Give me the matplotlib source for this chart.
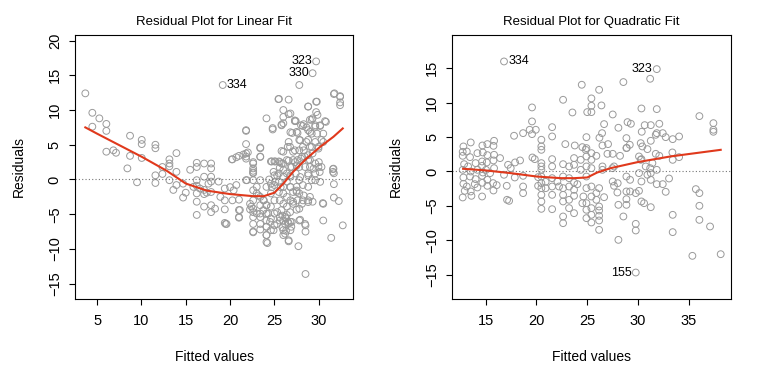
import numpy as np
import matplotlib.pyplot as plt

plt.rcParams['font.family'] = ['Liberation Sans', 'DejaVu Sans']

# residuals vs fitted, linear fit
lin_points = [
    (3.68, 12.4), (4.47, 9.6), (4.47, 7.6), (5.26, 8.8), (6.05, 8.0), (6.05, 7.0),
    (6.05, 4.0), (6.84, 4.2), (7.14, 3.85), (8.42, 1.6), (8.72, 6.3), (8.72, 3.4),
    (9.51, -0.4), (10.04, 5.7), (10.04, 5.1), (10.04, 3.1), (11.58, 5.0), (11.58, 4.5),
    (11.58, 0.6), (11.58, -0.5), (12.37, 1.8), (12.37, 0.8), (13.16, 2.9), (13.16, 2.3),
    (13.16, 1.9), (13.16, -0.1), (13.6, -1.5), (13.95, 3.8), (13.95, 1.1), (13.95, -0.8),
    (14.7, -2.6), (14.7, -0.6), (15.0, -1.9), (15.5, 1.4), (15.86, -1.06), (16.24, 2.4),
    (16.24, 1.8), (16.24, -0.1), (16.24, -0.9), (16.24, -2.0), (16.24, -3.2), (16.24, -5.1),
    (16.6, -1.3), (17.07, 2.3), (17.07, 0.4), (17.07, -1.5), (17.07, -2.1), (17.07, -3.9),
    (17.37, -1.9), (17.56, -0.6), (17.86, 2.3), (17.86, 1.6), (17.86, 0.4), (17.86, -0.3),
    (17.86, -1.8), (17.86, -3.7), (17.86, -4.7), (18.3, -4.2), (18.7, -0.3), (18.9, -2.5),
    (19.4, -1.3), (19.4, -4.3), (19.4, -6.25), (19.6, -6.4), (20.26, 2.9), (20.26, -3.0),
    (20.7, -0.8), (21.0, 3.4), (21.0, -2.9), (21.0, -4.4), (21.0, -5.5), (21.8, 7.1),
    (21.8, 5.1), (21.8, 3.75), (21.8, 3.3), (21.8, -0.1), (22.0, 3.9), (22.6, 2.3),
    (22.6, 1.25), (22.6, 0.9), (22.6, -0.1), (22.6, -3.0), (22.6, -4.2), (22.6, -5.4),
    (22.6, -6.4), (22.6, -7.5), (22.25, -3.5), (22.25, -4.3), (23.0, -1.06), (23.0, -2.0),
    (23.0, -4.9), (23.4, 4.6), (23.4, 3.3), (23.4, -0.1), (23.4, -2.5), (23.4, -3.7),
    (23.4, -5.4), (23.4, -7.2), (23.76, -3.0), (23.76, -4.4), (24.1, 8.8), (24.1, -1.06),
    (24.1, -3.7), (24.1, -4.9), (24.1, -5.9), (24.1, -6.8), (24.1, -8.0), (24.1, -9.0),
    (24.6, 2.6), (24.6, -0.6), (24.6, -2.0), (24.6, -3.9), (24.6, -5.6), (24.6, -7.3),
    (24.8, 7.4), (25.0, 2.6), (25.0, 0.6), (25.0, -0.8), (25.0, -3.0), (25.0, -4.9),
    (25.0, -6.6), (25.5, 11.6), (25.5, 2.6), (25.5, 0.87), (25.5, -0.34), (25.5, -1.8),
    (25.6, -3.0), (25.6, -5.4), (25.8, 7.8), (25.8, 2.3), (26.0, 10.0), (26.0, 9.0),
    (26.0, 8.1), (26.0, 4.0), (26.0, 1.35), (26.0, 0.4), (26.0, -1.06), (26.0, -3.5),
    (26.0, -5.9), (26.0, -7.3), (26.2, -7.8), (26.4, 2.8), (26.4, 0.87), (26.4, -0.3),
    (26.4, -2.5), (26.4, -3.9), (26.4, -5.1), (26.5, 4.7), (26.6, 11.5), (26.6, -6.3),
    (26.6, -8.75), (26.8, 9.5), (26.8, 1.8), (26.8, 0.4), (26.8, -1.06), (26.8, -3.0),
    (26.8, -7.3), (27.0, 6.7), (27.1, 4.0), (27.1, -1.8), (27.1, -3.5), (27.3, 8.5),
    (27.4, 0.87), (27.5, -1.06), (27.6, 6.7), (27.6, 2.8), (27.6, -3.0), (27.7, -9.6),
    (27.8, 13.6), (27.8, 5.7), (27.8, 4.2), (27.8, 1.8), (27.8, -0.1), (27.8, -2.0),
    (27.8, -4.2), (27.8, -5.9), (28.0, 7.8), (28.0, 3.0), (28.2, 7.7), (28.2, 4.7),
    (28.2, -0.8), (28.2, -3.0), (28.4, 3.3), (28.5, -6.6), (28.5, -7.5), (28.5, -13.6),
    (28.8, 10.5), (28.8, 7.1), (28.8, 5.7), (28.8, 2.8), (28.8, 0.87), (28.8, -1.06),
    (28.8, -3.0), (29.0, 8.6), (29.0, 4.7), (29.0, 1.8), (29.2, 6.6), (29.2, -0.1),
    (29.3, 15.3), (29.3, 8.8), (29.3, 3.75), (29.3, -3.2), (29.6, 7.6), (29.6, 2.3),
    (29.6, 0.87), (29.7, 11.2), (29.7, 17.0), (29.85, 9.3), (29.96, 4.7), (29.96, 1.8),
    (30.15, 7.8), (30.15, -0.34), (30.3, 5.7), (30.3, 1.8), (30.45, -3.4), (30.5, -5.9),
    (30.8, 8.3), (31.6, 1.5), (31.6, 1.1), (31.7, 12.3), (31.7, -0.67), (31.7, -2.6),
    (32.25, -3.1), (32.4, 11.9), (32.4, 11.1), (32.4, 10.7), (32.7, -6.6), (31.4, -8.4),
    (19.17, 13.6),
    # denser middle cluster
    (25.45, 11.57), (26.6, 9.4), (25.8, 7.9), (27.4, 8.4), (24.8, 7.2), (21.8, 7.0),
    (26.8, 6.8), (26.6, 5.4), (23.4, 4.5), (25.8, 4.1), (21.5, 3.6), (20.7, 3.2),
    (21.8, 3.0), (22.6, 2.5), (20.2, 2.9), (23.4, 3.25), (22.6, 1.6), (22.6, 1.0),
    (24.7, 2.6), (25.1, 2.6), (25.6, 2.5), (26.0, 2.3), (25.6, 1.7), (24.9, 1.1),
    (25.3, 0.6), (26.6, 2.7), (27.3, 2.5), (26.95, 1.8), (21.9, -0.1), (24.4, 0.0),
    (25.1, -0.35), (24.7, -1.1), (25.7, -1.1), (26.0, -2.0), (26.8, -1.1), (27.5, -1.8),
    (22.6, -1.55), (23.2, -2.3), (23.8, -3.0), (24.1, -3.7), (22.4, -3.9), (22.6, -4.7),
    (23.4, -4.9), (24.3, -4.9), (25.3, -4.7), (25.8, -4.4), (26.2, -5.4), (25.6, -5.9),
    (25.3, -6.4), (26.2, -6.4), (26.8, -6.1), (24.5, -6.1), (23.4, -6.4), (24.1, -6.8),
    (24.9, -7.3), (22.6, -7.6), (24.1, -8.0), (26.0, -8.0), (26.6, -8.9), (24.2, -9.15),
    (19.5, -6.4), (21.1, -4.4), (21.0, -5.4), (19.4, -3.0), (20.4, -1.55), (20.0, -1.1),
    (25.9, -5.2), (26.3, -5.6), (26.5, -6.1), (26.9, -6.8), (25.9, -6.9), (26.3, -7.4),
    (32.4, 12.0), (31.76, 12.4), (29.77, 11.2), (28.8, 10.5), (29.7, 9.7), (27.3, 8.4),
    (29.2, 8.6), (30.7, 8.4), (28.3, 7.96), (29.6, 7.8), (30.15, 7.7), (28.6, 7.5),
    (27.5, 6.85), (29.0, 6.85), (29.8, 6.6), (30.5, 6.6), (27.9, 5.65), (28.6, 5.4),
    (29.6, 5.4), (30.5, 5.4), (29.2, 4.7), (29.96, 4.45), (26.76, 4.7), (27.3, 4.2),
    (28.3, 4.2), (28.8, 3.5), (27.1, 2.8), (28.1, 3.25), (29.0, 2.8), (30.0, 2.5),
    (27.5, 2.0), (28.45, 1.8), (29.4, 1.56), (30.1, 1.08), (26.76, 0.6), (27.9, 0.36),
    (28.8, 0.6), (29.6, -0.12), (31.65, 1.56), (31.7, 0.9), (27.5, -1.6), (28.3, -2.3),
    (29.0, -2.5), (27.1, -3.2), (28.1, -3.5), (28.8, -3.25), (26.76, -4.7), (27.9, -5.8),
    (28.45, -6.4), (26.95, -6.1), (27.5, -4.35), (30.5, -3.5),
]

# residuals vs fitted, quadratic fit
quad_points = [
    (16.8, 15.96), (31.85, 14.85), (31.2, 13.45), (24.46, 12.58), (28.56, 12.97),
    (26.17, 11.85), (22.62, 10.4), (25.41, 10.6), (25.41, 9.53), (26.4, 9.58), (19.56, 9.29),
    (30.34, 9.14), (31.85, 9.05), (23.54, 8.56), (25.0, 8.61), (25.41, 8.61), (27.51, 8.27),
    (36.05, 8.03), (19.56, 7.26), (28.97, 7.16), (29.3, 6.92), (26.66, 6.87), (30.66, 6.72),
    (31.26, 6.72), (32.1, 6.92), (37.43, 7.01), (37.43, 6.05), (37.43, 5.76), (21.54, 6.43),
    (19.33, 6.05), (19.93, 6.05), (28.07, 6.34), (30.37, 5.76), (26.46, 5.56), (19.56, 5.42),
    (18.68, 5.56), (17.79, 5.18), (21.54, 5.08), (32.44, 5.56), (31.75, 5.32), (31.85, 5.56),
    (32.73, 4.98), (33.42, 4.69), (34.05, 5.08), (24.92, 4.98), (26.2, 4.89), (28.86, 4.84),
    (31.26, 4.45), (20.48, 4.6), (22.84, 3.97), (23.77, 3.77), (24.52, 3.53), (24.92, 3.39),
    (30.27, 4.11), (30.43, 3.63), (29.19, 3.87), (28.89, 3.43), (26.5, 3.77), (27.05, 3.97),
    (30.93, 3.24), (13.52, 4.21), (12.8, 3.63), (14.67, 3.77), (15.16, 3.97), (15.82, 4.45),
    (15.76, 3.72), (20.48, 3.63), (20.48, 3.14), (12.73, 2.85), (13.13, 2.9), (14.18, 2.66),
    (14.71, 2.76), (15.16, 2.37), (15.82, 2.42), (16.41, 1.94), (12.73, 2.27), (13.45, 2.08),
    (14.64, 1.45), (15.1, 1.31), (15.76, 1.6), (14.0, 1.21), (14.64, 0.82), (12.87, 1.06),
    (13.26, 0.73), (12.73, 0.24), (13.52, 0.0), (14.18, 0.24), (14.71, -0.15), (15.03, 0.24),
    (15.43, -0.24), (15.82, 0.48), (13.45, -0.73), (12.8, -0.87), (14.0, -1.11), (14.64, -0.63),
    (15.16, -1.21), (12.8, -1.79), (13.92, -1.84), (14.67, -1.64), (15.72, -1.69),
    (13.13, -2.18), (14.18, -2.32), (16.08, -1.98), (15.16, -2.08), (15.76, -2.76),
    (12.93, -2.81), (13.52, -2.9), (12.73, -3.77), (13.59, -3.53), (14.64, -3.63),
    (17.07, -2.08), (17.1, -4.11), (17.3, -4.26), (16.8, -0.48), (17.2, 0.97), (17.46, 0.48),
    (17.89, 1.31), (18.38, 1.6), (17.86, -0.87), (18.68, -0.63), (18.68, -2.18),
    (18.68, -3.14), (19.6, 2.03), (19.83, 1.79), (20.16, -0.82), (20.16, -2.08), (20.48, 1.21),
    (20.48, 0.73), (20.48, 0.24), (20.48, -0.73), (20.48, -1.69), (20.48, -2.42),
    (20.48, -3.39), (20.48, -4.35), (20.48, -5.42), (20.9, -1.5), (20.9, -2.42), (21.54, 1.79),
    (21.54, 0.73), (21.54, -0.97), (21.54, -2.18), (21.54, -3.39), (21.54, -5.47),
    (22.06, -1.45), (22.22, -2.18), (22.62, 1.06), (22.62, -0.73), (22.62, -2.42),
    (22.62, -3.39), (22.62, -4.35), (22.62, -6.53), (22.62, -7.5), (23.21, 0.73),
    (23.21, -0.97), (23.21, -2.18), (23.21, -4.11), (23.21, -5.32), (23.7, 1.94), (23.7, 0.97),
    (23.7, -1.6), (23.7, -2.66), (23.7, -3.53), (23.7, -6.05), (24.03, -1.84), (24.36, 1.69),
    (24.36, 0.24), (24.52, -4.6), (24.62, -3.63), (24.85, 3.14), (24.92, 2.18), (24.92, 0.73),
    (24.92, -0.73), (24.92, -2.42), (24.92, -4.6), (24.92, -5.56), (24.92, -6.77),
    (25.41, 2.66), (25.41, 1.69), (25.41, 0.48), (25.41, -2.18), (25.41, -3.63),
    (25.41, -5.32), (25.41, -6.29), (25.41, -7.4), (25.9, 2.27), (25.9, -3.14), (25.9, -4.11),
    (26.17, -2.42), (26.17, -5.08), (26.17, -5.66), (26.17, -6.43), (26.17, -7.11),
    (26.17, -8.47), (26.5, 0.73), (26.5, 0.24), (26.66, -3.73), (26.99, 2.56), (27.48, 0.48),
    (27.51, -1.45), (27.64, -2.08), (27.97, -3.05), (28.0, -1.7), (28.07, -4.84),
    (28.07, -9.92), (27.51, 2.56), (27.64, 0.73), (28.23, 2.27), (28.56, -6.53), (28.86, 3.39),
    (28.86, -0.73), (28.86, -2.9), (28.86, -4.02), (28.86, -4.84), (29.22, -2.9),
    (29.22, -1.21), (29.78, -3.14), (29.78, -7.6), (29.78, -8.56), (29.78, -14.66),
    (30.1, 2.18), (30.1, -0.24), (30.1, -2.81), (30.27, 1.69), (30.34, -1.45), (30.34, -4.35),
    (30.34, 1.79), (30.6, -4.6), (30.76, 0.73), (30.93, -0.48), (31.2, 0.48), (31.26, -1.21),
    (31.42, 1.21), (31.26, -5.18), (31.26, -0.24), (31.75, 2.56), (31.85, 0.24),
    (31.85, -1.84), (32.1, 2.27), (32.44, -1.84), (32.73, -2.95), (33.06, -1.02),
    (33.39, 2.76), (33.42, 1.69), (33.42, -6.29), (33.42, -8.8), (34.05, 2.08), (35.7, -2.56),
    (36.05, -3.14), (36.05, -4.98), (36.05, -7.02), (35.36, -12.24), (37.1, -7.98),
    (38.15, -12.0),
]

# smoothed trend lines
lin_smooth_x = [3.68, 5.0, 10.04, 12.86, 15.0, 17.37, 20.0, 22.6, 23.8, 25.0, 26.0, 27.1, 28.6, 30.15, 31.65, 32.7]
lin_smooth_y = [7.5, 6.6, 3.27, 1.25, -0.58, -1.6, -2.1, -2.4, -2.4, -1.9, -0.6, 1.1, 3.0, 4.7, 6.15, 7.35]
quad_smooth_x = [12.77, 15.0, 17.46, 20.0, 22.4, 23.7, 25.0, 25.98, 27.3, 29.94, 33.2, 38.15]
quad_smooth_y = [0.39, 0.15, -0.24, -0.73, -0.97, -0.97, -0.87, -0.15, 0.48, 1.35, 2.18, 3.14]

# labelled outliers: (fitted, residual, label, side)
lin_labels = [(19.17, 13.6, '334', 'right'), (29.7, 17.0, '323', 'left'), (29.3, 15.3, '330', 'left')]
quad_labels = [(16.8, 15.96, '334', 'right'), (31.85, 14.85, '323', 'left'), (29.78, -14.66, '155', 'left')]

fig = plt.figure(figsize=(7.68, 3.82), dpi=100)
ax1 = fig.add_axes([0.0977, 0.2173, 0.362, 0.6911])
ax2 = fig.add_axes([0.589, 0.2173, 0.3625, 0.6911])

panels = [
    (ax1, lin_points, lin_smooth_x, lin_smooth_y, lin_labels, 'Residual Plot for Linear Fit',
     (2.52, 33.86), (-17.2, 20.8), [5, 10, 15, 20, 25, 30], [-15, -10, -5, 0, 5, 10, 15, 20]),
    (ax2, quad_points, quad_smooth_x, quad_smooth_y, quad_labels, 'Residual Plot for Quadratic Fit',
     (11.71, 39.14), (-18.5, 19.8), [15, 20, 25, 30, 35], [-15, -10, -5, 0, 5, 10, 15]),
]

for ax, pts, sx, sy, labels, title, xlim, ylim, xt, yt in panels:
    pts = np.array(pts)
    ax.scatter(pts[:, 0], pts[:, 1], s=24, facecolors='none', edgecolors='#9a9a9a', linewidths=0.7)
    ax.axhline(0, color='#777777', linestyle=(0, (1, 2)), linewidth=0.8)
    ax.plot(sx, sy, color='#e0391c', linewidth=1.5)
    for x, y, txt, side in labels:
        if side == 'right':
            ax.text(x + 0.4, y, txt, ha='left', va='center', fontsize=9)
        else:
            ax.text(x - 0.4, y, txt, ha='right', va='center', fontsize=9)
    ax.set_xlim(*xlim)
    ax.set_ylim(*ylim)
    ax.set_xticks(xt)
    ax.set_yticks(yt)
    ax.set_yticklabels([str(v).replace('-', '\u2212') for v in yt], rotation=90, va='center')
    ax.tick_params(direction='out', length=4.5, width=0.8, labelsize=10.5, pad=5)
    ax.tick_params(axis='x', pad=6)
    for sp in ax.spines.values():
        sp.set_linewidth(0.8)
    ax.set_title(title, fontsize=9.5, pad=7)
    ax.set_xlabel('Fitted values', fontsize=10, labelpad=16)
    ax.set_ylabel('Residuals', fontsize=10, labelpad=16)

fig.savefig('out.png', dpi=100)
